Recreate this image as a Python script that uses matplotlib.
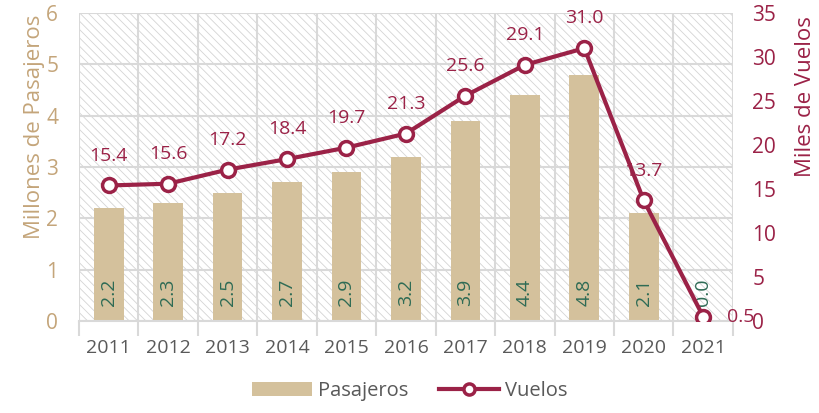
import numpy as np
import matplotlib
matplotlib.use('Agg')
import matplotlib.pyplot as plt
from matplotlib.patches import Rectangle, Patch
from matplotlib.lines import Line2D

# Data
years = ['2011', '2012', '2013', '2014', '2015', '2016', '2017', '2018', '2019', '2020', '2021']
pasajeros = [2.2, 2.3, 2.5, 2.7, 2.9, 3.2, 3.9, 4.4, 4.8, 2.1, 0.02]
pasajeros_lbl = ['2.2', '2.3', '2.5', '2.7', '2.9', '3.2', '3.9', '4.4', '4.8', '2.1', '0.0']
vuelos = [15.4, 15.6, 17.2, 18.4, 19.7, 21.3, 25.6, 29.1, 31.0, 13.7, 0.5]

tan = '#D4C19C'
tan_txt = '#C4A57A'
maroon = '#9B2247'
green = '#2E6B55'
gray_txt = '#595959'
grid_c = '#D9D9D9'

plt.rcParams['font.family'] = ['Open Sans', 'DejaVu Sans']
plt.rcParams['hatch.linewidth'] = 0.6
plt.rcParams['hatch.color'] = '#D4D4D4'

fig = plt.figure(figsize=(8.2, 4.13), dpi=100)
ax = fig.add_axes([0.0963, 0.2228, 0.7975, 0.7457])
x = np.arange(len(years))

ax.set_xlim(-0.5, len(years) - 0.5)
ax.set_ylim(0, 6)

# hatched background
ax.add_patch(Rectangle((0, 0), 1, 1, transform=ax.transAxes, facecolor='white',
                       edgecolor='#D4D4D4', hatch='\\\\\\\\', linewidth=0, zorder=0))

ax.bar(x, pasajeros, width=0.5, color=tan, zorder=2)
for xi, lbl in zip(x, pasajeros_lbl):
    ax.text(xi, 0.3, lbl, rotation=90, ha='center', va='bottom', color=green,
            fontsize=14, zorder=3)

# grid
ax.set_yticks(range(0, 7))
ax.set_xticks(x)
ax.set_xticklabels(years)
ax.set_xticks(np.arange(-0.5, len(years)), minor=True)
ax.grid(True, axis='y', which='major', color=grid_c, lw=1.5, zorder=1)
ax.grid(True, axis='x', which='minor', color=grid_c, lw=1.5, zorder=1)
ax.tick_params(axis='x', which='major', length=0, pad=13, labelsize=14, labelcolor=gray_txt)
ax.tick_params(axis='x', which='minor', length=11, width=1.5, color=grid_c)
ax.tick_params(axis='y', length=0, pad=15, labelsize=15, labelcolor=tan_txt)
for s in ['top', 'right', 'left']:
    ax.spines[s].set_visible(False)
ax.spines['bottom'].set_color(grid_c)
ax.spines['bottom'].set_linewidth(1.5)
ax.set_ylabel('Millones de Pasajeros', color=tan_txt, fontsize=16)
ax.yaxis.set_label_coords(-0.052, 0.63)

ax2 = ax.twinx()
ax2.set_ylim(0, 35)
ax2.set_yticks(range(0, 36, 5))
ax2.plot(x, vuelos, color=maroon, lw=3, marker='o', ms=10, mfc='white',
         mec=maroon, mew=2.5, zorder=4)
for xi, v in zip(x[:-1], vuelos[:-1]):
    ax2.annotate(f'{v:.1f}', (xi, v), xytext=(0, 15), textcoords='offset points',
                 ha='center', va='bottom', color=maroon, fontsize=14)
ax2.annotate(f'{vuelos[-1]:.1f}', (x[-1], vuelos[-1]), xytext=(17, 0),
             textcoords='offset points', ha='left', va='center', color=maroon, fontsize=14)
ax2.tick_params(axis='y', length=0, pad=14, labelsize=15, labelcolor=maroon)
for s in ['top', 'right', 'left', 'bottom']:
    ax2.spines[s].set_visible(False)
ax2.set_ylabel('Miles de Vuelos', color=maroon, fontsize=16)
ax2.yaxis.set_label_coords(1.095, 0.73)

handles = [Patch(facecolor=tan, edgecolor='none'),
           Line2D([0], [0], color=maroon, lw=3, marker='o', ms=8, mfc='white', mec=maroon, mew=2.5)]
fig.legend(handles, ['Pasajeros', 'Vuelos'], loc='lower center', bbox_to_anchor=(0.5, -0.015),
           ncol=2, frameon=False, fontsize=14.5, labelcolor=gray_txt, handlelength=3,
           columnspacing=1.5, handletextpad=0.3)

fig.savefig('out.png', dpi=100)
